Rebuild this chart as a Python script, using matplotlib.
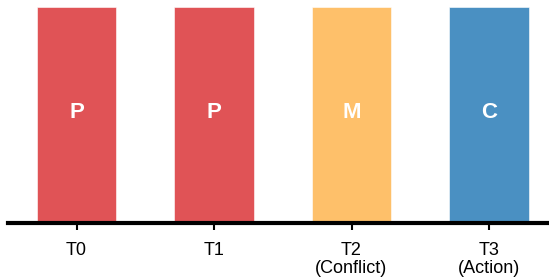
import matplotlib
matplotlib.use("Agg")
import matplotlib.pyplot as plt

# Data
stages = ["T0", "T1", "T2\n(Conflict)", "T3\n(Action)"]
letters = ["P", "P", "M", "C"]
heights = [1, 1, 1, 1]
colors = ["#E05356", "#E05356", "#FEC06A", "#4A90C2"]

plt.rcParams["font.family"] = ["Liberation Sans", "DejaVu Sans"]

fig = plt.figure(figsize=(5.49, 2.80), dpi=100)
# axes slightly wider than the figure so the baseline runs off the right edge
ax = fig.add_axes([7.75 / 549, 57.5 / 280, 550 / 549, 215.2 / 280])

x = list(range(len(stages)))
bars = ax.bar(x, heights, width=0.58, color=colors, edgecolor="white", linewidth=0.4)

# letter in the middle of each bar
for xi, h, lab in zip(x, heights, letters):
    ax.text(xi, h * 0.51, lab, ha="center", va="center",
            color="white", fontsize=16, fontweight="bold")

ax.set_xlim(-0.5, 3.5)
ax.set_ylim(0, 1)
ax.set_xticks(x)
ax.set_xticklabels(stages, fontsize=13, linespacing=1.05)
ax.set_yticks([])

for s in ["top", "right", "left"]:
    ax.spines[s].set_visible(False)
ax.spines["bottom"].set_linewidth(3)
ax.tick_params(axis="x", length=5, width=1.5, pad=9)

fig.savefig("out.png", dpi=100)
